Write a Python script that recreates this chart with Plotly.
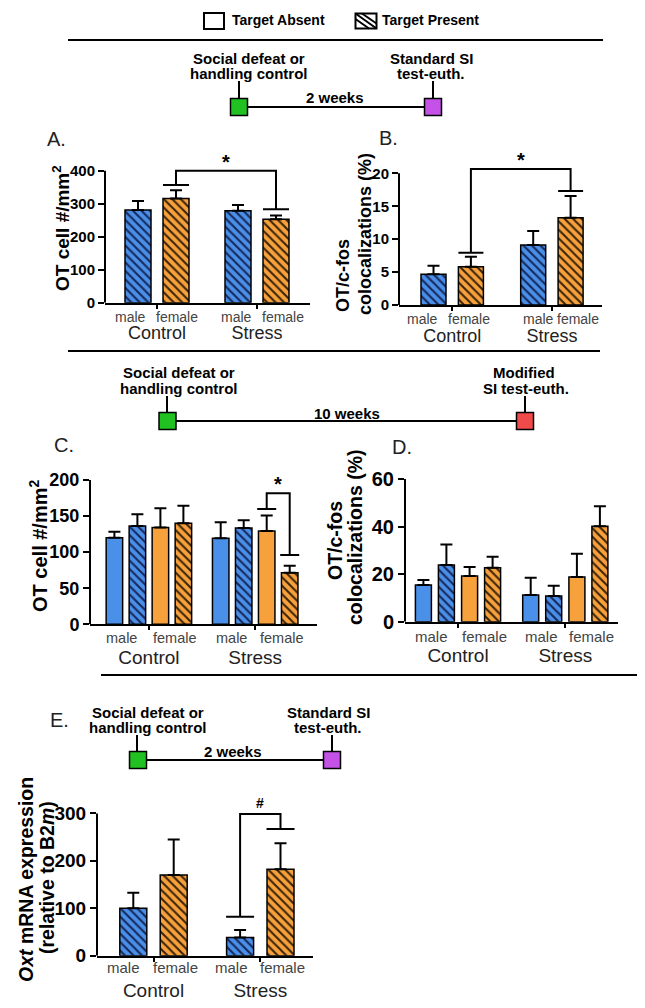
import plotly.graph_objects as go

W, H = 645, 1008
FONT = "Liberation Sans, Arial, sans-serif"
PAGE_OFFSET = 8  # the page body margin shifts the figure by 8 px


def fx(px):
    return (px - PAGE_OFFSET) / W


def fy(py):
    return 1 - (py - PAGE_OFFSET) / H


# ---------------- data ----------------
groups = ["Control", "Stress"]
sex_labels = ["male", "female"]

# Panel A: OT cell #/mm2 (2 weeks, target present)
a_male = [281, 279]
a_male_sem = [27, 17]
a_female = [316, 253]
a_female_sem = [25, 11]
a_sig_caps = [357, 283]
a_sig_top = 400
a_yticks = [0, 100, 200, 300, 400]

# Panel B: OT/c-fos colocalizations (%)
b_male = [4.66, 9.11]
b_male_sem = [1.31, 2.13]
b_female = [5.82, 13.27]
b_female_sem = [1.52, 3.29]
b_sig_caps = [7.95, 17.3]
b_sig_top = 20.66
b_yticks = [0, 5, 10, 15, 20]

# Panel C: OT cell #/mm2 (10 weeks)
c_male_absent = [120.1, 119.2]
c_male_absent_sem = [8.3, 22.1]
c_male_present = [136.3, 133.5]
c_male_present_sem = [16.1, 10.6]
c_female_absent = [134.0, 129.3]
c_female_absent_sem = [26.7, 21.3]
c_female_present = [140.0, 71.6]
c_female_present_sem = [24.4, 9.7]
c_sig_caps = [159.8, 96.1]
c_sig_top = 181.5
c_yticks = [0, 50, 100, 150, 200]

# Panel D: OT/c-fos colocalizations (%) (10 weeks)
d_male_absent = [15.4, 11.2]
d_male_absent_sem = [2.1, 7.3]
d_male_present = [23.8, 10.8]
d_male_present_sem = [8.7, 4.3]
d_female_absent = [19.2, 18.8]
d_female_absent_sem = [3.8, 9.8]
d_female_present = [22.7, 40.1]
d_female_present_sem = [4.6, 8.4]
d_yticks = [0, 20, 40, 60]

# Panel E: Oxt mRNA expression
e_male = [99.8, 38.6]
e_male_sem = [33.0, 15.5]
e_female = [170.0, 182.0]
e_female_sem = [75.2, 54.8]
e_sig_caps = [82.2, 267.0]
e_sig_top = 298.6
e_yticks = [0, 100, 200, 300]

# ---------------- styles ----------------
BLUE = "#4a8fe8"
ORANGE = "#f7a13d"
BLUE_H = "#16285a"
ORANGE_H = "#3a2408"

fig = go.Figure()
shapes = []
annotations = []
layout_axes = {}


def axn(n, letter):
    return letter if n == 1 else f"{letter}{n}"


def setup_panel(n, left, right, zero, ppu, ctrl, stress, ytop, yticks,
                tickfont, catfont, standoff):
    ppc = stress - ctrl
    xr = [-(ctrl - left) / ppc, 1 + (right - stress) / ppc]
    top = zero - ytop * ppu
    layout_axes["xaxis" if n == 1 else f"xaxis{n}"] = dict(
        domain=[fx(left), fx(right)], range=xr, anchor=axn(n, "y"),
        automargin=False,
        showline=True, linewidth=2, linecolor="black", showgrid=False,
        zeroline=False, ticks="outside", ticklen=4, tickwidth=1.5,
        tickcolor="black", tickvals=list(range(len(groups))), ticktext=groups,
        tickfont=dict(family=FONT, size=catfont, color="#222"),
        ticklabelstandoff=standoff, fixedrange=True)
    layout_axes["yaxis" if n == 1 else f"yaxis{n}"] = dict(
        domain=[fy(zero), fy(top)], range=[0, ytop], anchor=axn(n, "x"),
        automargin=False,
        showline=False, showgrid=False, zeroline=False, ticks="outside",
        ticklen=6, tickwidth=2, tickcolor="black", tickvals=yticks,
        tickfont=dict(family=FONT, size=tickfont, color="black", weight="bold"),
        fixedrange=True)
    # y axis line stopping at the last tick (GraphPad style)
    shapes.append(dict(type="line", xref=f"{axn(n, 'x')} domain", yref=axn(n, "y"),
                       x0=0, x1=0, y0=0, y1=yticks[-1],
                       line=dict(color="black", width=2)))
    return ppc


def add_bars(n, ppc, vals, sem, off_px, w_px, color, hatch_color):
    pattern = dict(shape="") if hatch_color is None else dict(
        shape="\\", bgcolor=color, fgcolor=hatch_color, size=6, solidity=0.35,
        fillmode="replace")
    fig.add_trace(go.Bar(
        x=list(range(len(groups))), y=vals,
        width=w_px / ppc, offset=(off_px - w_px / 2) / ppc,
        xaxis=axn(n, "x"), yaxis=axn(n, "y"),
        marker=dict(color=color, line=dict(color="black", width=1.5), pattern=pattern),
        error_y=dict(type="data", symmetric=False, array=sem,
                     arrayminus=[0] * len(sem), color="black", thickness=2, width=6),
        showlegend=False, hoverinfo="skip"))


def sex_labels_for(n, ppc, offsets, size, shift):
    # offsets: per group, [male_px, female_px] relative to group centre
    for g, offs in enumerate(offsets):
        for text, off in zip(sex_labels, offs):
            annotations.append(dict(
                text=text, x=g + off / ppc, y=0, xref=axn(n, "x"),
                yref=f"{axn(n, 'y')} domain", yanchor="middle", xanchor="center",
                yshift=-shift, showarrow=False,
                font=dict(family=FONT, size=size, color="#444")))


def sig_bracket(n, xl, xr, caps, top, cap_w, sym, sym_size, sym_shift):
    xa, ya = axn(n, "x"), axn(n, "y")
    for xc, cy in zip([xl, xr], caps):
        shapes.append(dict(type="line", xref=xa, yref=ya, x0=xc - cap_w / 2,
                           x1=xc + cap_w / 2, y0=cy, y1=cy,
                           line=dict(color="black", width=2)))
    shapes.append(dict(type="path", xref=xa, yref=ya,
                       path=f"M{xl},{caps[0]} V{top} H{xr} V{caps[1]}",
                       line=dict(color="black", width=2)))
    annotations.append(dict(text=f"<b>{sym}</b>", x=(xl + xr) / 2, y=top, xref=xa,
                            yref=ya, yanchor="bottom", xanchor="center",
                            yshift=sym_shift, showarrow=False,
                            font=dict(family=FONT, size=sym_size, color="black")))


# ---------------- Panel A ----------------
ppc = setup_panel(1, 105, 310, 302.7, 0.33, 157, 257, 415, a_yticks, 15, 18, 9)
add_bars(1, ppc, a_male, a_male_sem, -19, 26, BLUE, BLUE_H)
add_bars(1, ppc, a_female, a_female_sem, 19, 26, ORANGE, ORANGE_H)
sex_labels_for(1, ppc, [[-27, 20], [-21, 26]], 14, 14)
sig_bracket(1, 0 + 19 / ppc, 1 + 19 / ppc, a_sig_caps, a_sig_top, 26 / ppc, "*", 20, -4)

# ---------------- Panel B ----------------
ppc = setup_panel(2, 399, 602, 305, 6.583, 452.2, 551.9, 21.5, b_yticks, 15, 18, 9)
add_bars(2, ppc, b_male, b_male_sem, -18.7, 25, BLUE, BLUE_H)
add_bars(2, ppc, b_female, b_female_sem, 18.7, 25, ORANGE, ORANGE_H)
sex_labels_for(2, ppc, [[-30, 17], [-13, 26]], 14, 14)
sig_bracket(2, 0 + 18.7 / ppc, 1 + 18.7 / ppc, b_sig_caps, b_sig_top, 25 / ppc, "*", 20, -4)

# ---------------- Panel C ----------------
ppc = setup_panel(3, 90, 317, 624.3, 0.7217, 148.9, 255.2, 202, c_yticks, 18, 19, 11)
c_off = [-34.5, -11.5, 11.5, 34.5]
add_bars(3, ppc, c_male_absent, c_male_absent_sem, c_off[0], 16.5, BLUE, None)
add_bars(3, ppc, c_male_present, c_male_present_sem, c_off[1], 16.5, BLUE, BLUE_H)
add_bars(3, ppc, c_female_absent, c_female_absent_sem, c_off[2], 16.5, ORANGE, None)
add_bars(3, ppc, c_female_present, c_female_present_sem, c_off[3], 16.5, ORANGE, ORANGE_H)
sex_labels_for(3, ppc, [[-27, 26], [-24, 27]], 14.5, 14)
sig_bracket(3, 1 + c_off[2] / ppc, 1 + c_off[3] / ppc, c_sig_caps, c_sig_top,
            19 / ppc, "*", 20, -4)

# ---------------- Panel D ----------------
ppc = setup_panel(4, 405, 618, 621.7, 2.378, 458, 565.3, 61, d_yticks, 20, 19, 11)
d_off = [-34.6, -11.6, 11.6, 34.6]
add_bars(4, ppc, d_male_absent, d_male_absent_sem, d_off[0], 16, BLUE, None)
add_bars(4, ppc, d_male_present, d_male_present_sem, d_off[1], 16, BLUE, BLUE_H)
add_bars(4, ppc, d_female_absent, d_female_absent_sem, d_off[2], 16, ORANGE, None)
add_bars(4, ppc, d_female_present, d_female_present_sem, d_off[3], 16, ORANGE, ORANGE_H)
sex_labels_for(4, ppc, [[-26.5, 26.5], [-24, 26]], 15, 15)

# ---------------- Panel E ----------------
ppc = setup_panel(5, 97, 313, 955.7, 0.4744, 153.5, 260.3, 310, e_yticks, 19, 19, 12)
add_bars(5, ppc, e_male, e_male_sem, -20.2, 27, BLUE, BLUE_H)
add_bars(5, ppc, e_female, e_female_sem, 20.2, 27, ORANGE, ORANGE_H)
sex_labels_for(5, ppc, [[-30, 22], [-29, 22]], 15, 12)
sig_bracket(5, 1 - 20.2 / ppc, 1 + 20.2 / ppc, e_sig_caps, e_sig_top, 28 / ppc, "#", 14, 1)


# ---------------- decorations in page coordinates ----------------
def pline(x0, y0, x1, y1, w=2):
    shapes.append(dict(type="line", xref="paper", yref="paper", x0=fx(x0), x1=fx(x1),
                       y0=fy(y0), y1=fy(y1), line=dict(color="black", width=w)))


def prect(cx, cy, w, h, fill, lw=1.5):
    shapes.append(dict(type="rect", xref="paper", yref="paper",
                       x0=fx(cx - w / 2), x1=fx(cx + w / 2),
                       y0=fy(cy + h / 2), y1=fy(cy - h / 2),
                       fillcolor=fill, line=dict(color="black", width=lw)))


def ptext(text, px, py, size, bold=True, xanchor="center", angle=0, color="black"):
    annotations.append(dict(text=f"<b>{text}</b>" if bold else text, x=fx(px),
                            y=fy(py), xref="paper", yref="paper", showarrow=False,
                            xanchor=xanchor, yanchor="middle", textangle=angle,
                            font=dict(family=FONT, size=size, color=color)))


# legend
prect(214, 21, 20, 16, "white", 2)
ptext("Target Absent", 230, 20, 14, xanchor="left")
prect(366, 21, 21, 15, "white", 2)
pline(355.5, 13.5, 376.5, 28.5, 2)
pline(362, 13.5, 376.5, 23.5, 2)
pline(355.5, 19, 369, 28.5, 2)
ptext("Target Present", 380, 20, 14, xanchor="left")

# separators
pline(68, 40, 603, 40, 2)
pline(68, 351, 600, 351, 2)
pline(101, 675, 637, 675, 2)

GREEN, PURPLE, RED = "#22c122", "#c452e6", "#f04a4a"

# timeline 1
pline(239, 107, 433, 107, 2)
pline(239, 81, 239, 99, 2)
pline(433, 81, 433, 99, 2)
prect(239, 107, 17, 17, GREEN)
prect(433, 107, 17, 17, PURPLE)
ptext("Social defeat or", 249, 58, 15)
ptext("handling control", 249, 73, 15)
ptext("Standard SI", 431, 58, 15)
ptext("test-euth.", 431, 73, 15)
ptext("2 weeks", 335, 97, 15)

# timeline 2
pline(167.5, 421, 525, 421, 2)
pline(167, 396, 167, 413, 2)
pline(525, 396, 525, 413, 2)
prect(167.5, 421, 17, 17, GREEN)
prect(525, 421, 17, 17, RED)
ptext("Social defeat or", 179, 372, 15)
ptext("handling control", 179, 388, 15)
ptext("Modified", 524, 372, 15)
ptext("SI test-euth.", 526, 388, 15)
ptext("10 weeks", 347, 413, 15)

# timeline 3
pline(138, 760, 332, 760, 2)
pline(137, 735, 137, 752, 2)
pline(332, 735, 332, 752, 2)
prect(138, 760, 17, 17, GREEN)
prect(332, 760, 17, 17, PURPLE)
ptext("Social defeat or", 148, 712, 15)
ptext("handling control", 148, 727, 15)
ptext("Standard SI", 328, 712, 15)
ptext("test-euth.", 328, 727, 15)
ptext("2 weeks", 233, 751, 15)

# panel letters
ptext("A.", 45, 139, 20, bold=False, xanchor="left", color="#222")
ptext("B.", 377, 138, 20, bold=False, xanchor="left", color="#222")
ptext("C.", 52, 445, 20, bold=False, xanchor="left", color="#222")
ptext("D.", 390, 447, 20, bold=False, xanchor="left", color="#222")
ptext("E.", 48, 720, 20, bold=False, xanchor="left", color="#222")

# y-axis titles
ptext("OT cell #/mm<sup>2</sup>", 61, 228, 19, angle=-90)
ptext("OT/c-fos", 343, 276, 18, angle=-90)
ptext("colocalizations (%)", 365, 234, 18, angle=-90)
ptext("OT cell #/mm<sup>2</sup>", 38, 546, 20, angle=-90)
ptext("OT/c-fos", 335, 541, 19.5, angle=-90)
ptext("colocalizations (%)", 355, 537, 19.5, angle=-90)
ptext("<i>Oxt</i> mRNA expression", 26, 880, 19.5, angle=-90)
ptext("(relative to B2<i>m</i>)", 47, 878, 19.5, angle=-90)

fig.update_layout(
    width=W, height=H, margin=dict(l=0, r=0, t=0, b=0, autoexpand=False),
    paper_bgcolor="white", plot_bgcolor="rgba(0,0,0,0)",
    barmode="overlay", showlegend=False,
    shapes=shapes, annotations=annotations, **layout_axes)

fig.write_html("out.html")
